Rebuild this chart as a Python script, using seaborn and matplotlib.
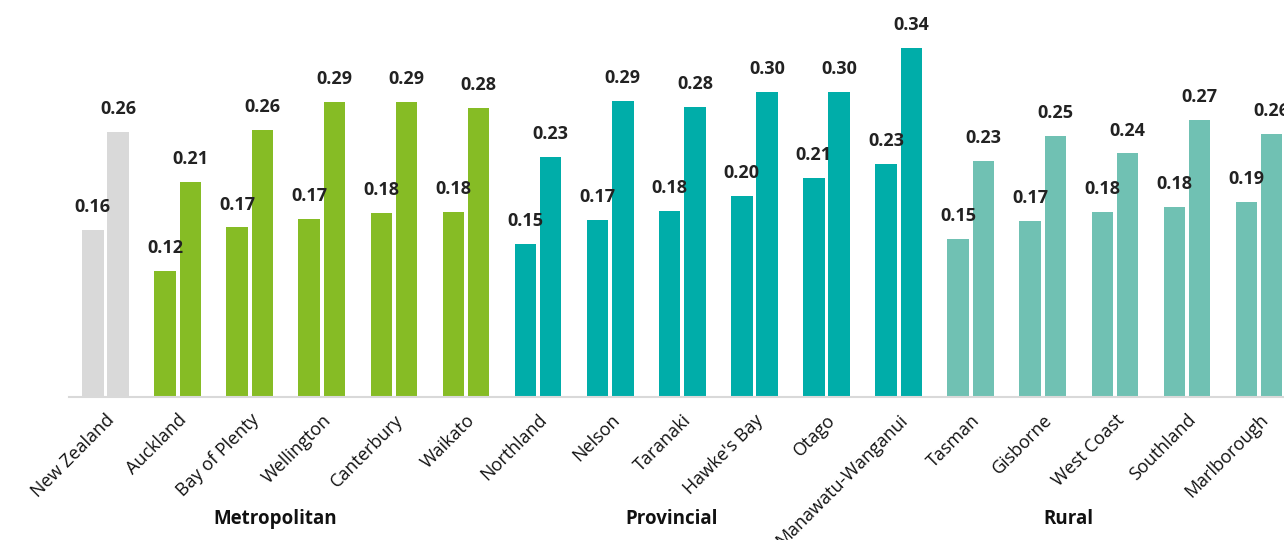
import matplotlib
matplotlib.use("Agg")
import matplotlib.pyplot as plt
import numpy as np
import pandas as pd
import seaborn as sns

regioes = ["New Zealand", "Auckland", "Bay of Plenty", "Wellington", "Canterbury",
           "Waikato", "Northland", "Nelson", "Taranaki", "Hawke's Bay", "Otago",
           "Manawatu-Wanganui", "Tasman", "Gisborne", "West Coast", "Southland",
           "Marlborough"]
grupos = ["Total"] + ["Metropolitan"] * 5 + ["Provincial"] * 6 + ["Rural"] * 5
serie_a = [0.163, 0.123, 0.165, 0.173, 0.179, 0.180, 0.149, 0.172, 0.181, 0.196,
           0.213, 0.227, 0.154, 0.171, 0.180, 0.185, 0.190]
serie_b = [0.258, 0.209, 0.260, 0.287, 0.287, 0.281, 0.234, 0.288, 0.282, 0.297,
           0.297, 0.340, 0.230, 0.254, 0.237, 0.270, 0.256]

cores = {"Total": "#D9D9D9", "Metropolitan": "#86BC25",
         "Provincial": "#00ADA9", "Rural": "#70C1B3"}

df = pd.DataFrame({
    "regiao": regioes * 2,
    "valor": serie_a + serie_b,
    "serie": ["a"] * len(regioes) + ["b"] * len(regioes),
})

sns.set_style("white")
plt.rcParams["font.family"] = ["Open Sans", "DejaVu Sans"]

fig = plt.figure(figsize=(12.84, 5.4), dpi=100)
ax = fig.add_axes([0.0541, 0.2648, 0.9546, 0.685])

sns.barplot(data=df, x="regiao", y="valor", hue="serie", order=regioes,
            width=0.7, gap=0.15, legend=False, ax=ax)

for cont in ax.containers:
    for i, barra in enumerate(cont):
        barra.set_facecolor(cores[grupos[i]])
        barra.set_edgecolor("none")
    ax.bar_label(cont, fmt="%.2f", padding=10, fontsize=13,
                 fontweight="bold", color="#222222")

ax.set_xlim(-0.5, len(regioes) - 0.5)
ax.set_ylim(0, 0.36)
ax.set_xlabel("")
ax.set_ylabel("")
ax.set_yticks([])
for lado in ["top", "right", "left"]:
    ax.spines[lado].set_visible(False)
ax.spines["bottom"].set_color("#D9D9D9")
ax.spines["bottom"].set_linewidth(1.5)

ax.set_xticks(np.arange(len(regioes)))
ax.set_xticklabels(regioes, rotation=45, ha="right", rotation_mode="anchor",
                   fontsize=13, color="#111111")
ax.tick_params(axis="x", which="major", length=0, pad=10)
ax.set_xticks(np.arange(len(regioes) + 1) - 0.5, minor=True)
ax.tick_params(axis="x", which="minor", length=8, width=1.5,
               color="#D9D9D9", direction="out")

# rótulos dos grupos
for nome in ["Metropolitan", "Provincial", "Rural"]:
    pos = [i for i, g in enumerate(grupos) if g == nome]
    ax.text(np.mean(pos) - 0.65, -0.33, nome, transform=ax.get_xaxis_transform(),
            ha="center", va="center", fontsize=13.5, fontweight="bold",
            color="#111111")

fig.savefig("out.png", dpi=100)
